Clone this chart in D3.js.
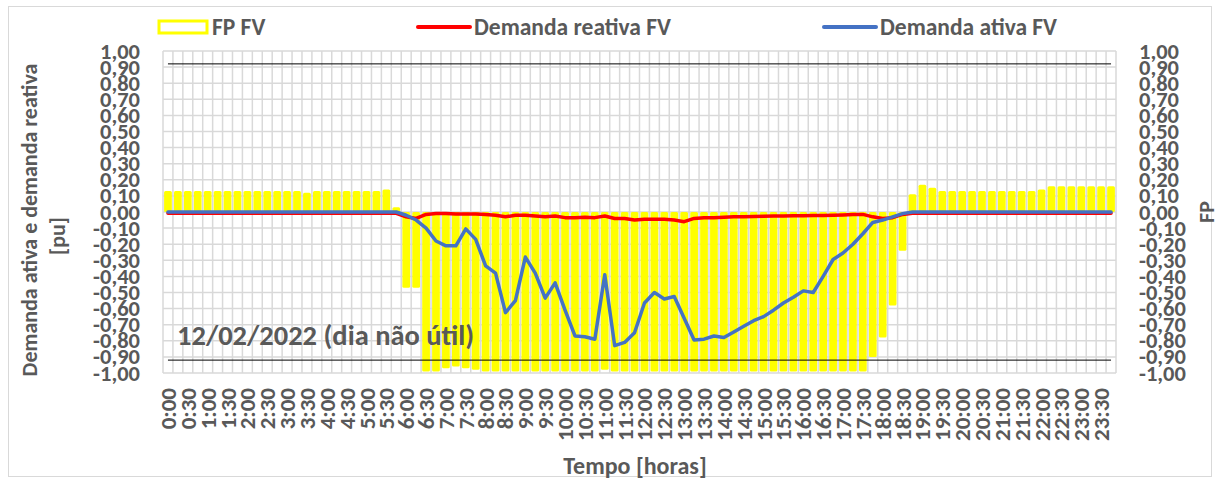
<!DOCTYPE html>
<html>
<head>
<meta charset="utf-8">
<script src="https://cdn.jsdelivr.net/npm/d3@7"></script>
<style>
    body { margin: 0; background: #fff; }
    svg text { font-family: Carlito, Lato, "Open Sans", sans-serif; font-weight: bold; fill: #595959; }
</style>
</head>
<body>
<div></div>
<script>
// ---------------------------------------------------
// 1. DADOS (leitura do gráfico, intervalos de 15 min)
// ---------------------------------------------------
var horarios = [
    "0:00","0:15","0:30","0:45","1:00","1:15","1:30","1:45","2:00","2:15","2:30","2:45",
    "3:00","3:15","3:30","3:45","4:00","4:15","4:30","4:45","5:00","5:15","5:30","5:45",
    "6:00","6:15","6:30","6:45","7:00","7:15","7:30","7:45","8:00","8:15","8:30","8:45",
    "9:00","9:15","9:30","9:45","10:00","10:15","10:30","10:45","11:00","11:15","11:30","11:45",
    "12:00","12:15","12:30","12:45","13:00","13:15","13:30","13:45","14:00","14:15","14:30","14:45",
    "15:00","15:15","15:30","15:45","16:00","16:15","16:30","16:45","17:00","17:15","17:30","17:45",
    "18:00","18:15","18:30","18:45","19:00","19:15","19:30","19:45","20:00","20:15","20:30","20:45",
    "21:00","21:15","21:30","21:45","22:00","22:15","22:30","22:45","23:00","23:15","23:30","23:45"
];

// rótulos do eixo x (a cada 30 min)
var rotulosX = [
    "0:00","0:30","1:00","1:30","2:00","2:30","3:00","3:30","4:00","4:30","5:00","5:30",
    "6:00","6:30","7:00","7:30","8:00","8:30","9:00","9:30","10:00","10:30","11:00","11:30",
    "12:00","12:30","13:00","13:30","14:00","14:30","15:00","15:30","16:00","16:30","17:00","17:30",
    "18:00","18:30","19:00","19:30","20:00","20:30","21:00","21:30","22:00","22:30","23:00","23:30"
];

// FP FV (barras)
var fpFV = [
    0.13, 0.13, 0.13, 0.13, 0.13, 0.13, 0.13, 0.13, 0.13, 0.13, 0.13, 0.13,
    0.13, 0.13, 0.12, 0.13, 0.13, 0.13, 0.13, 0.13, 0.13, 0.13, 0.14, 0.03,
    -0.47, -0.47, -0.99, -0.99, -0.97, -0.96, -0.97, -0.98, -0.99, -0.99, -0.99, -0.99,
    -0.99, -0.99, -0.99, -0.99, -0.99, -0.99, -0.99, -0.99, -0.98, -0.99, -0.99, -0.99,
    -0.99, -0.99, -0.99, -0.99, -0.99, -0.99, -0.99, -0.99, -0.99, -0.99, -0.99, -0.99,
    -0.99, -0.99, -0.99, -0.99, -0.99, -0.99, -0.99, -0.99, -0.99, -0.99, -0.99, -0.90,
    -0.78, -0.58, -0.24, 0.11, 0.17, 0.15, 0.13, 0.13, 0.13, 0.13, 0.13, 0.13,
    0.13, 0.13, 0.13, 0.13, 0.14, 0.16, 0.16, 0.16, 0.16, 0.16, 0.16, 0.16
];

// Demanda reativa FV (linha vermelha)
var reativaFV = [
    -0.008, -0.008, -0.008, -0.008, -0.008, -0.008, -0.008, -0.008, -0.008, -0.008, -0.008, -0.008,
    -0.008, -0.008, -0.008, -0.008, -0.008, -0.008, -0.008, -0.008, -0.008, -0.008, -0.008, -0.008,
    -0.03, -0.04, -0.015, -0.01, -0.01, -0.012, -0.012, -0.012, -0.015, -0.02, -0.03, -0.02,
    -0.02, -0.025, -0.03, -0.025, -0.035, -0.035, -0.032, -0.035, -0.025, -0.04, -0.04, -0.05,
    -0.045, -0.045, -0.045, -0.05, -0.06, -0.04, -0.035, -0.035, -0.033, -0.03, -0.03, -0.028,
    -0.027, -0.025, -0.025, -0.024, -0.023, -0.022, -0.022, -0.02, -0.018, -0.016, -0.015, -0.03,
    -0.04, -0.035, -0.015, -0.008, -0.008, -0.008, -0.008, -0.008, -0.008, -0.008, -0.008, -0.008,
    -0.008, -0.008, -0.008, -0.008, -0.008, -0.008, -0.008, -0.008, -0.008, -0.008, -0.008, -0.008
];

// Demanda ativa FV (linha azul)
var ativaFV = [
    0, 0, 0, 0, 0, 0, 0, 0, 0, 0, 0, 0,
    0, 0, 0, 0, 0, 0, 0, 0, 0, 0, 0, 0,
    -0.02, -0.05, -0.10, -0.18, -0.21, -0.21, -0.105, -0.17, -0.335, -0.38, -0.625, -0.55,
    -0.28, -0.38, -0.535, -0.44, -0.61, -0.77, -0.775, -0.79, -0.39, -0.83, -0.81, -0.75,
    -0.565, -0.50, -0.54, -0.525, -0.66, -0.795, -0.79, -0.77, -0.78, -0.745, -0.71, -0.675,
    -0.65, -0.61, -0.565, -0.53, -0.49, -0.50, -0.40, -0.295, -0.255, -0.20, -0.135, -0.065,
    -0.05, -0.03, -0.01, 0, 0, 0, 0, 0, 0, 0, 0, 0,
    0, 0, 0, 0, 0, 0, 0, 0, 0, 0, 0, 0
];

// limites de FP (linhas pretas)
var limitesFP = [0.92, -0.92];

// ticks do eixo y
var ticksY = [1, 0.9, 0.8, 0.7, 0.6, 0.5, 0.4, 0.3, 0.2, 0.1, 0, -0.1, -0.2, -0.3, -0.4, -0.5, -0.6, -0.7, -0.8, -0.9, -1];

// ---------------------------------------------------
// 2. LIENZO E ESCALAS
// ---------------------------------------------------
var width = 1219, height = 480;
var plot = { left: 163, right: 1116, top: 51, bottom: 373 };

var svg = d3.select("div").append("svg")
    .attr("width", width)
    .attr("height", height);

// borda externa
svg.append("rect")
    .attr("x", 8.5).attr("y", 6.5)
    .attr("width", 1203).attr("height", 470)
    .attr("fill", "none")
    .attr("stroke", "#d9d9d9");

var scaleX = d3.scaleBand()
    .domain(horarios)
    .range([plot.left, plot.right])
    .paddingInner(0.22)
    .paddingOuter(0.11);

var scaleY = d3.scaleLinear()
    .domain([-1, 1])
    .range([plot.bottom, plot.top]);

var passo = scaleX.step();
var centro = d => scaleX(d) + scaleX.bandwidth() / 2;
var fmt = d => d3.format(".2f")(d).replace(".", ",").replace("−", "-");

// ---------------------------------------------------
// 3. GRADE
// ---------------------------------------------------
var grade = svg.append("g")
    .attr("stroke", "#d9d9d9")
    .attr("stroke-width", 1.5);

grade.selectAll("line.h")
    .data(ticksY)
    .enter()
    .append("line")
    .attr("x1", plot.left).attr("x2", plot.right)
    .attr("y1", d => scaleY(d)).attr("y2", d => scaleY(d));

grade.selectAll("line.v")
    .data(d3.range(horarios.length + 1))
    .enter()
    .append("line")
    .attr("x1", i => plot.left + i * passo)
    .attr("x2", i => plot.left + i * passo)
    .attr("y1", plot.top).attr("y2", plot.bottom);

// ---------------------------------------------------
// 4. BARRAS FP FV
// ---------------------------------------------------
svg.append("g")
    .selectAll("rect")
    .data(fpFV)
    .enter()
    .append("rect")
    .attr("x", (d, i) => scaleX(horarios[i]))
    .attr("width", scaleX.bandwidth())
    .attr("y", d => scaleY(Math.max(d, 0)))
    .attr("height", d => Math.abs(scaleY(d) - scaleY(0)))
    .attr("rx", 1.5)
    .attr("fill", "#ffff00");

// linhas limite de FP
svg.append("g")
    .selectAll("line")
    .data(limitesFP)
    .enter()
    .append("line")
    .attr("x1", centro(horarios[0]))
    .attr("x2", centro(horarios[horarios.length - 1]))
    .attr("y1", d => scaleY(d))
    .attr("y2", d => scaleY(d))
    .attr("stroke", "#000")
    .attr("stroke-width", 1);

// ---------------------------------------------------
// 5. LINHAS DE DEMANDA
// ---------------------------------------------------
var linha = d3.line()
    .x((d, i) => centro(horarios[i]))
    .y(d => scaleY(d));

svg.append("path")
    .datum(reativaFV)
    .attr("d", linha)
    .attr("fill", "none")
    .attr("stroke", "#ff0000")
    .attr("stroke-width", 3.5)
    .attr("stroke-linejoin", "round")
    .attr("stroke-linecap", "round");

svg.append("path")
    .datum(ativaFV)
    .attr("d", linha)
    .attr("fill", "none")
    .attr("stroke", "#4472c4")
    .attr("stroke-width", 3.5)
    .attr("stroke-linejoin", "round")
    .attr("stroke-linecap", "round");

// ---------------------------------------------------
// 6. EIXOS E TEXTOS
// ---------------------------------------------------
// eixo y esquerdo
svg.append("g")
    .selectAll("text")
    .data(ticksY)
    .enter()
    .append("text")
    .attr("x", 140)
    .attr("y", d => scaleY(d))
    .attr("dominant-baseline", "central")
    .attr("text-anchor", "end")
    .attr("font-size", 22.5)
    .text(fmt);

// eixo y direito
svg.append("g")
    .selectAll("text")
    .data(ticksY)
    .enter()
    .append("text")
    .attr("x", 1139)
    .attr("y", d => scaleY(d))
    .attr("dominant-baseline", "central")
    .attr("text-anchor", "start")
    .attr("font-size", 22.5)
    .text(fmt);

// eixo x (rótulos girados)
svg.append("g")
    .selectAll("text")
    .data(rotulosX)
    .enter()
    .append("text")
    .attr("transform", d => "translate(" + centro(d) + ",388) rotate(-90)")
    .attr("dominant-baseline", "central")
    .attr("text-anchor", "end")
    .attr("font-size", 23)
    .text(d => d);

// títulos dos eixos
svg.append("text")
    .attr("x", 635).attr("y", 474)
    .attr("text-anchor", "middle")
    .attr("font-size", 24)
    .text("Tempo [horas]");

var tituloY = svg.append("text")
    .attr("transform", "translate(37,220) rotate(-90)")
    .attr("text-anchor", "middle")
    .attr("font-size", 22);
tituloY.append("tspan").attr("x", 0).attr("dy", 0).text("Demanda ativa e demanda reativa");
tituloY.append("tspan").attr("x", -16).attr("dy", 28).text("[pu]");

svg.append("text")
    .attr("transform", "translate(1214,212) rotate(-90)")
    .attr("text-anchor", "middle")
    .attr("font-size", 22)
    .text("FP");

// anotação da data
svg.append("text")
    .attr("x", 177).attr("y", 345)
    .attr("font-size", 28.5)
    .text("12/02/2022 (dia não útil)");

// ---------------------------------------------------
// 7. LEGENDA
// ---------------------------------------------------
var legenda = svg.append("g");
legenda.append("rect")
    .attr("x", 159).attr("y", 21)
    .attr("width", 48).attr("height", 12)
    .attr("fill", "#fff")
    .attr("stroke", "#ffff00")
    .attr("stroke-width", 3);
legenda.append("text").attr("x", 212).attr("y", 35).attr("font-size", 23.5).text("FP FV");

legenda.append("line")
    .attr("x1", 418).attr("x2", 470).attr("y1", 27).attr("y2", 27)
    .attr("stroke", "#ff0000").attr("stroke-width", 4).attr("stroke-linecap", "round");
legenda.append("text").attr("x", 474).attr("y", 35).attr("font-size", 23.5).text("Demanda reativa FV");

legenda.append("line")
    .attr("x1", 824).attr("x2", 876).attr("y1", 27).attr("y2", 27)
    .attr("stroke", "#4472c4").attr("stroke-width", 4).attr("stroke-linecap", "round");
legenda.append("text").attr("x", 880).attr("y", 35).attr("font-size", 23.5).text("Demanda ativa FV");
</script>
</body>
</html>
